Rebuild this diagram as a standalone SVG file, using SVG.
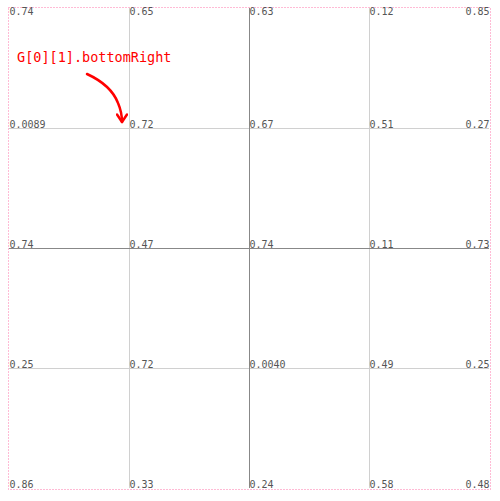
<svg xmlns="http://www.w3.org/2000/svg" width="500" height="501" viewBox="0 0 500 501">
<style>
.minor{stroke:#d0d0d0;stroke-width:1;fill:none}
.major{stroke:#888;stroke-width:1;fill:none}
.v{font-family:"DejaVu Sans Mono","Liberation Mono",monospace;font-size:10px;fill:#555}
.r{text-anchor:end}
.ann{font-family:"DejaVu Sans Mono","Liberation Mono",monospace;font-size:13.5px;fill:#f00}
</style>
<defs>
<marker id="ah" viewBox="0 0 10 10" refX="7" refY="5" markerWidth="5" markerHeight="5" orient="auto" markerUnits="strokeWidth">
<path d="M1,1 L7,5 L1,9" fill="none" stroke="#f00" stroke-width="2" stroke-linecap="round" stroke-linejoin="round"/>
</marker>
</defs>
<rect width="500" height="501" fill="#fff"/>
<g id="grid">
<line class="minor" x1="9" y1="128.5" x2="489" y2="128.5"/>
<line class="minor" x1="9" y1="368.5" x2="489" y2="368.5"/>
<line class="minor" x1="129.5" y1="8" x2="129.5" y2="488"/>
<line class="minor" x1="369.5" y1="8" x2="369.5" y2="488"/>
<line class="major" x1="9" y1="248.5" x2="489" y2="248.5"/>
<line class="major" x1="249.5" y1="8" x2="249.5" y2="488"/>
</g>
<rect id="border" x="8.5" y="7.5" width="482" height="482" fill="none" stroke="#f7a" stroke-width="1" stroke-dasharray="1 2"/>
<g id="labels">
<g id="row0">
<text class="v" x="9.5" y="15">0.74</text>
<text class="v" x="129.5" y="15">0.65</text>
<text class="v" x="249.5" y="15">0.63</text>
<text class="v" x="369.5" y="15">0.12</text>
<text class="v r" x="489.5" y="15">0.85</text>
</g>
<g id="row1">
<text class="v" x="9.5" y="128">0.0089</text>
<text class="v" x="129.5" y="128">0.72</text>
<text class="v" x="249.5" y="128">0.67</text>
<text class="v" x="369.5" y="128">0.51</text>
<text class="v r" x="489.5" y="128">0.27</text>
</g>
<g id="row2">
<text class="v" x="9.5" y="248">0.74</text>
<text class="v" x="129.5" y="248">0.47</text>
<text class="v" x="249.5" y="248">0.74</text>
<text class="v" x="369.5" y="248">0.11</text>
<text class="v r" x="489.5" y="248">0.73</text>
</g>
<g id="row3">
<text class="v" x="9.5" y="368">0.25</text>
<text class="v" x="129.5" y="368">0.72</text>
<text class="v" x="249.5" y="368">0.0040</text>
<text class="v" x="369.5" y="368">0.49</text>
<text class="v r" x="489.5" y="368">0.25</text>
</g>
<g id="row4">
<text class="v" x="9.5" y="488">0.86</text>
<text class="v" x="129.5" y="488">0.33</text>
<text class="v" x="249.5" y="488">0.24</text>
<text class="v" x="369.5" y="488">0.58</text>
<text class="v r" x="489.5" y="488">0.48</text>
</g>
</g>
<g id="annotation">
<text class="ann" x="17" y="62">G[0][1].bottomRight</text>
</g>
<g id="connectors">
<path d="M87,74 C100,80 113,90 118,103 C121,110 122,116 122,122" fill="none" stroke="#f00" stroke-width="2.5" stroke-linecap="round" marker-end="url(#ah)"/>
</g>
</svg>
